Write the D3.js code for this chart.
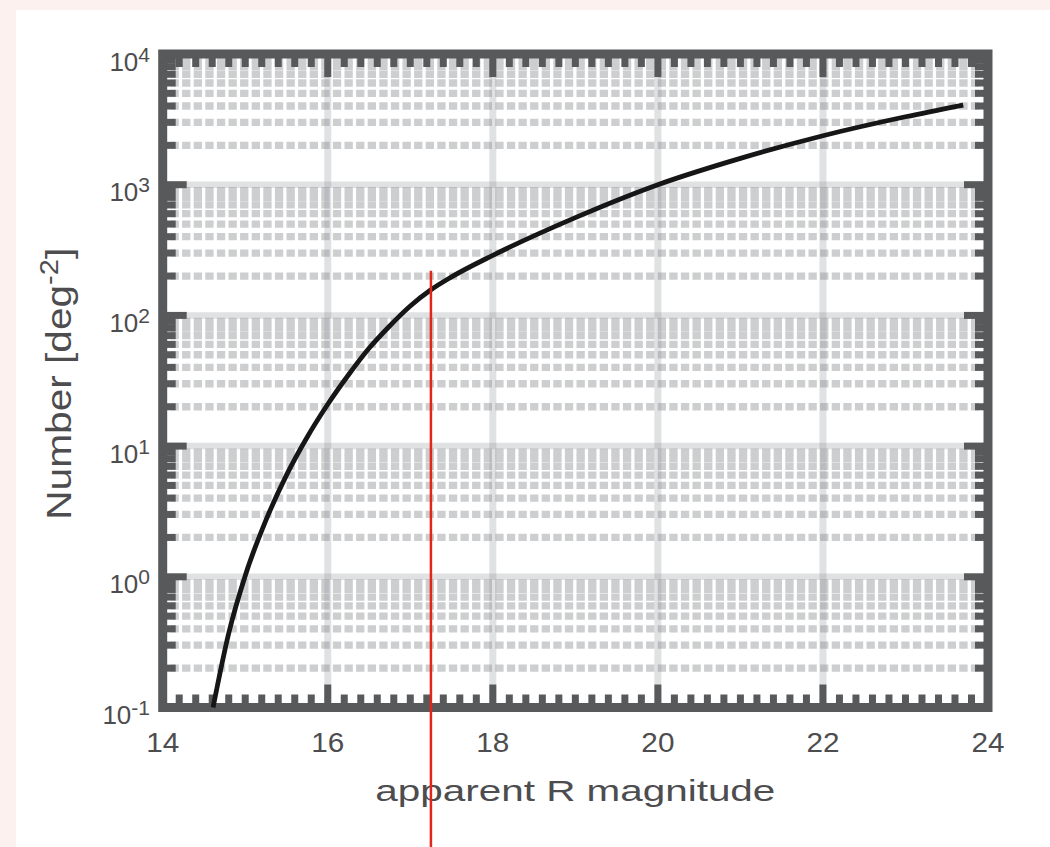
<!DOCTYPE html>
<html>
<head>
<meta charset="utf-8">
<title>Number counts</title>
<script src="https://d3js.org/d3.v7.min.js"></script>
<style>
  body { margin: 0; background: #fcf1ee; }
  svg { display: block; }
  text { font-family: "Liberation Sans", Arial, Helvetica, sans-serif; fill: #4d4d4f; }
</style>
</head>
<body>
<svg width="1050" height="847"></svg>
<script>
// values
var magnitudes = [14.61, 14.8, 15.0, 15.25, 15.5, 15.75, 16.0, 16.25, 16.5, 16.75, 17.0, 17.25, 17.5, 18.0, 19.0, 20.0, 21.0, 22.0, 23.0, 23.7];
var counts     = [0.1,   0.37, 1.02, 2.7,   6.0,  11.7,  20.9, 35,    56,   83,    118,  157,   197,  288,  560,  1000, 1590, 2370, 3310, 4070];
var xMajor = [14, 16, 18, 20, 22, 24];
var yDecades = [-1, 0, 1, 2, 3, 4];
var cutMag = 17.25, cutTop = 220;
var xTitle = "apparent R magnitude";

var svg = d3.select("svg"),
    W = +svg.attr("width"), H = +svg.attr("height");

var axisColor = "#58595b";
var x = d3.scaleLinear().domain([14, 24]).range([162.7, 988]);
var y = d3.scaleLog().domain([0.1, 1e4]).range([707.5, 54]);
var x0 = x.range()[0], x1 = x.range()[1], y0 = y.range()[0], y1 = y.range()[1];

// white page panel
svg.append("rect").attr("x", 16).attr("y", 10).attr("width", W - 16).attr("height", H - 10).attr("fill", "#fff");

// minor values: 2..9 x 10^k on y, every 0.2 on x
var yMinor = y.ticks().filter(function(v) {
  var m = v / Math.pow(10, Math.floor(Math.log10(v) + 1e-9));
  return Math.round(m) !== 1;
});
var xMinor = x.ticks(50).filter(function(v) { return Math.abs(v / 2 - Math.round(v / 2)) > 1e-6; });

var grid = svg.append("g");
// minor horizontal dashed grid
grid.selectAll(".ymin").data(yMinor).enter().append("line")
  .attr("x1", x0).attr("x2", x1)
  .attr("y1", function(d) { return y(d); }).attr("y2", function(d) { return y(d); })
  .attr("stroke", "#cdced0")
  .attr("stroke-width", 7.3).attr("stroke-dasharray", "8.3,3.3").attr("stroke-dashoffset", -7.8);
// major grid
grid.selectAll(".xmaj").data(xMajor).enter().append("line")
  .attr("x1", function(d) { return x(d); }).attr("x2", function(d) { return x(d); })
  .attr("y1", y1).attr("y2", y0)
  .attr("stroke", "#868a90").attr("stroke-opacity", 0.26).attr("stroke-width", 7);
grid.selectAll(".ymaj").data(yDecades).enter().append("line")
  .attr("x1", x0).attr("x2", x1)
  .attr("y1", function(d) { return y(Math.pow(10, d)); }).attr("y2", function(d) { return y(Math.pow(10, d)); })
  .attr("stroke", "#868a90").attr("stroke-opacity", 0.26).attr("stroke-width", 6.5);

// axes box and ticks
var ax = svg.append("g").attr("stroke", axisColor).attr("stroke-width", 7);
function vTicks(vals, len) {
  vals.forEach(function(v) {
    ax.append("line").attr("x1", x(v)).attr("x2", x(v)).attr("y1", y0).attr("y2", y0 - len);
    ax.append("line").attr("x1", x(v)).attr("x2", x(v)).attr("y1", y1).attr("y2", y1 + len);
  });
}
function hTicks(vals, len) {
  vals.forEach(function(v) {
    ax.append("line").attr("y1", y(v)).attr("y2", y(v)).attr("x1", x0).attr("x2", x0 + len);
    ax.append("line").attr("y1", y(v)).attr("y2", y(v)).attr("x1", x1).attr("x2", x1 - len);
  });
}
vTicks(xMinor, 13);
vTicks(xMajor, 23);
hTicks(yMinor, 13);
hTicks(yDecades.map(function(d) { return Math.pow(10, d); }), 24);
svg.append("rect").attr("x", x0).attr("y", y1).attr("width", x1 - x0).attr("height", y0 - y1)
  .attr("fill", "none").attr("stroke", axisColor).attr("stroke-width", 9);

// curve
var pts = magnitudes.map(function(m, i) { return [m, counts[i]]; });
var line = d3.line().x(function(d) { return x(d[0]); }).y(function(d) { return y(d[1]); }).curve(d3.curveMonotoneX);
svg.append("path").datum(pts).attr("d", line)
  .attr("fill", "none").attr("stroke", "#161616").attr("stroke-width", 4.8).attr("stroke-linejoin", "round");

// tick labels
svg.selectAll(".xl").data(xMajor).enter().append("text")
  .attr("transform", function(d) { return "translate(" + x(d) + ",752) scale(1.1,1)"; })
  .attr("text-anchor", "middle").attr("font-size", 27)
  .text(function(d) { return d; });

var yl = svg.selectAll(".yl").data(yDecades).enter().append("text")
  .attr("x", 150).attr("y", function(d) { return y(Math.pow(10, d)) + 16.5; })
  .attr("text-anchor", "end").attr("font-size", 26);
yl.append("tspan").text("10");
yl.append("tspan").attr("font-size", 21).attr("dy", -9).text(function(d) { return d; });

// axis titles
svg.append("text").attr("x", (x0 + x1) / 2).attr("y", 801)
  .attr("text-anchor", "middle").attr("font-size", 30)
  .attr("textLength", 400).attr("lengthAdjust", "spacingAndGlyphs")
  .text(xTitle);

var yt = svg.append("text").attr("transform", "translate(71," + ((y0 + y1) / 2 + 3) + ") rotate(-90)")
  .attr("text-anchor", "middle").attr("font-size", 35)
  .attr("textLength", 272).attr("lengthAdjust", "spacingAndGlyphs");
yt.append("tspan").text("Number [deg");
yt.append("tspan").attr("font-size", 25).attr("dy", -13).text("-2");
yt.append("tspan").attr("dy", 13).text("]");

// red cut line
svg.append("line").attr("x1", x(cutMag)).attr("x2", x(cutMag))
  .attr("y1", y(cutTop)).attr("y2", H)
  .attr("stroke", "#e3261b").attr("stroke-width", 2.5);
</script>
</body>
</html>
